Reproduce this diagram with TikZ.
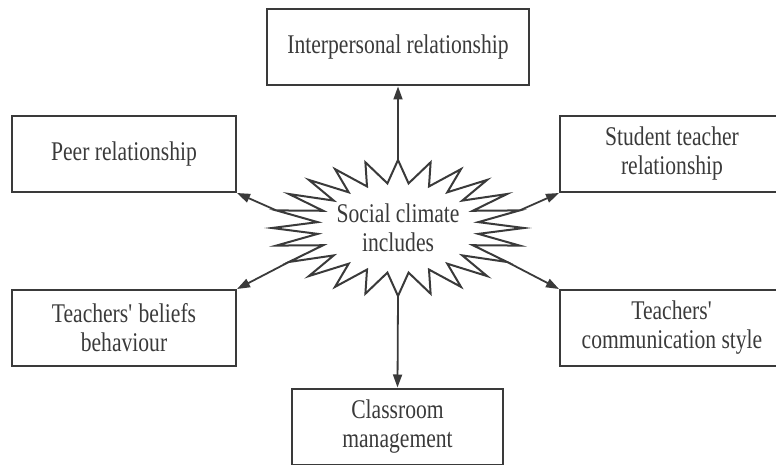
\documentclass[tikz,border=0pt]{standalone}
\usepackage{fontspec}
\setmainfont{Liberation Serif}[FakeStretch=0.80]
\usetikzlibrary{arrows.meta}
\usetikzlibrary{calc}
\definecolor{inkgray}{HTML}{3A3A3A}
\tikzstyle{box}=[rectangle,draw=inkgray,line width=2pt,minimum height=76pt,inner sep=0pt,align=center,text=inkgray,font=\fontsize{27}{29}\selectfont]
\tikzstyle{burst}=[draw=inkgray,line width=2pt,line join=miter]
\tikzstyle{edge} = [draw,inkgray,line width=1.8pt,-{Triangle[length=13pt,width=9pt]}]
\tikzstyle{centretext} = [align=center,text=inkgray,font=\fontsize{27}{29}\selectfont]

\begin{document}
\begin{tikzpicture}[x=1pt,y=-1pt]
    \useasboundingbox (0,0) rectangle (776,465);

    \foreach \pos/\name/\boxw/\label in {{(398,47.5)/inter/262/Interpersonal relationship}, {(124,154)/peer/224/Peer relationship}, {(672,154)/student/224/Student teacher\\relationship}, {(124,328)/beliefs/224/Teachers\textquotesingle{} beliefs\\behaviour}, {(672,328)/comm/224/Teachers\textquotesingle\\communication style}, {(397.5,426.5)/classroom/211/Classroom\\management}}
        \node[box,minimum width=\boxw pt] (\name) at \pos {\label};

    % the burst round the centre text
    \begin{scope}[shift={(398,228)}]
        \draw[burst] (0:126 and 68) \foreach \i in {1,...,47} { -- ({\i*7.5}:{126-45*mod(\i,2)} and {68-23*mod(\i,2)}) } -- cycle;
        \foreach \ang/\name in {270/ctop, 90/cbot, 195/cpeer, 345/cstud, 150/cbel, 30/ccom}
            \coordinate (\name) at (\ang:126 and 68);
    \end{scope}
    \node[centretext] (climate) at (398,228) {Social climate\\includes};

    \foreach \source/ \dest in {ctop/inter.south, cbot/classroom.north, cpeer/peer.south east, cstud/student.south west, cbel/beliefs.north east, ccom/comm.north west}
        \path[edge] (\source) -- (\dest);

\end{tikzpicture}
\end{document}
